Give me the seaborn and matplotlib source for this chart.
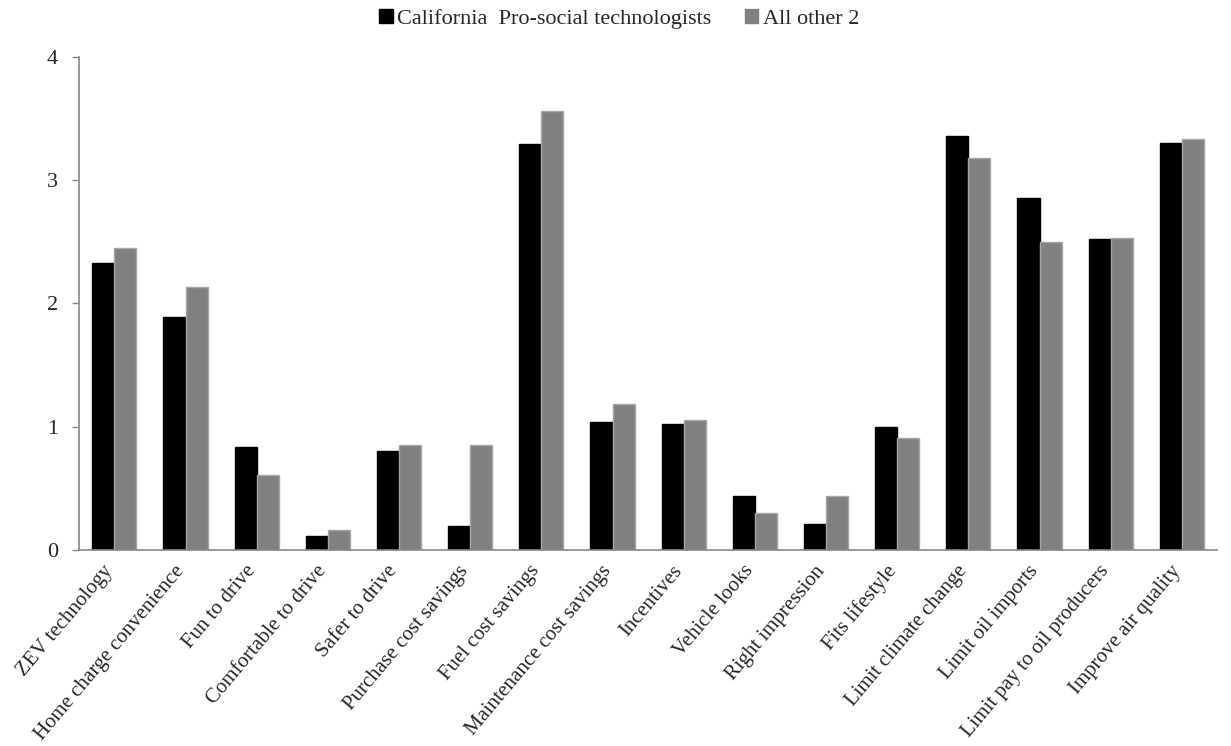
import matplotlib
matplotlib.use("Agg")
import matplotlib.pyplot as plt
import matplotlib.transforms as mtransforms
import seaborn as sns
import pandas as pd
from matplotlib.patches import Patch

# categorias y valores
categories = ["ZEV technology", "Home charge convenience", "Fun to drive",
              "Comfortable to drive", "Safer to drive", "Purchase cost savings",
              "Fuel cost savings", "Maintenance cost savings", "Incentives",
              "Vehicle looks", "Right impression", "Fits lifestyle",
              "Limit climate change", "Limit oil imports",
              "Limit pay to oil producers", "Improve air quality"]
series_names = ["California  Pro-social technologists", "All other 2"]
ca_prosocial = [2.33, 1.89, 0.83, 0.11, 0.80, 0.19, 3.29, 1.04,
                1.02, 0.44, 0.21, 1.00, 3.36, 2.85, 2.52, 3.30]
all_other = [2.45, 2.13, 0.61, 0.16, 0.85, 0.85, 3.56, 1.18,
             1.05, 0.30, 0.44, 0.91, 3.18, 2.50, 2.53, 3.33]
y_ticks = [0, 1, 2, 3, 4]
colors = ["#000000", "#808080"]

df = pd.DataFrame({
    "category": categories * 2,
    "group": [series_names[0]] * len(categories) + [series_names[1]] * len(categories),
    "value": ca_prosocial + all_other,
})

sns.set_style("white")
plt.rcParams['font.family'] = ['Liberation Serif', 'DejaVu Serif']

fig = plt.figure(figsize=(12.31, 7.46), dpi=100)
ax = fig.add_axes([0.064, 0.263, 0.925, 0.661])

sns.barplot(data=df, x="category", y="value", hue="group", order=categories,
            hue_order=series_names, palette=colors, width=0.62, saturation=1,
            ax=ax, legend=False)

# bordes de las barras
for bar in ax.patches:
    fc = bar.get_facecolor()
    if fc[0] > 0.3:
        bar.set_edgecolor("#a6a6a6")
    else:
        bar.set_edgecolor("#000000")
    bar.set_linewidth(1)

ax.set_ylim(0, 4)
ax.set_xlim(-0.5, len(categories) - 0.5)
ax.set_yticks(y_ticks)
ax.set_yticklabels([str(t) for t in y_ticks], fontsize=16)
ax.set_xlabel("")
ax.set_ylabel("")

# etiquetas en el centro, marcas en los bordes de cada categoria
ax.set_xticks(range(len(categories)))
ax.set_xticklabels(categories, rotation=50, ha="right", rotation_mode="anchor",
                   fontsize=15)
ax.tick_params(axis="x", which="major", length=0, pad=10)
shift = mtransforms.ScaledTranslation(-12 / 100, 2 / 100, fig.dpi_scale_trans)
for lbl in ax.get_xticklabels():
    lbl.set_transform(lbl.get_transform() + shift)
ax.set_xticks([i - 0.5 for i in range(len(categories) + 1)], minor=True)
ax.tick_params(axis="x", which="minor", length=5, color="#868686", width=1)
ax.tick_params(axis="y", length=5, color="#868686", width=1, left=True, pad=10)

for side in ["top", "right"]:
    ax.spines[side].set_visible(False)
for side in ["left", "bottom"]:
    ax.spines[side].set_color("#868686")
    ax.spines[side].set_linewidth(1.2)

handles = [Patch(facecolor=colors[0], edgecolor=colors[0]),
           Patch(facecolor=colors[1], edgecolor=colors[1])]
fig.legend(handles, series_names, loc="center", bbox_to_anchor=(0.503, 0.975),
           ncol=2, frameon=False, fontsize=16, handlelength=0.6,
           handleheight=0.6, handletextpad=0.2, columnspacing=1.5)

fig.savefig("out.png", dpi=100)
